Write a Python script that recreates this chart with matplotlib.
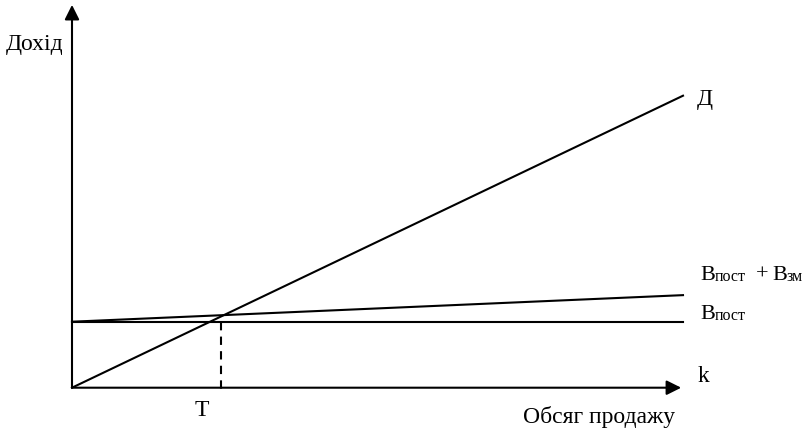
import numpy as np
import matplotlib.pyplot as plt

plt.rcParams['font.family'] = ['Liberation Serif', 'DejaVu Serif']

# data (relative units: sales volume 0..1, income 0..1)
volume = [0.0, 1.0]
revenue = [0.0, 1.0]          # Д
fixed_cost = [0.226, 0.226]   # B_пост
total_cost = [0.226, 0.317]   # B_пост + B_зм
break_even = 0.244            # T

# pixel layout of the original drawing
X0, Y0 = 72, 387.7      # origin
SX, SY = 611, 292       # pixels per unit


def px(x, y):
    return (x - X0) / SX, (Y0 - y) / SY


fig = plt.figure(figsize=(8.09, 4.32), dpi=100)
ax = fig.add_axes([0, 0, 1, 1])
ax.set_xlim(px(0, 0)[0], px(809, 0)[0])
ax.set_ylim(px(0, 432)[1], px(0, 0)[1])
ax.axis('off')

lw = 1.5
ax.plot(volume, revenue, color='black', lw=lw)
ax.plot(volume, fixed_cost, color='black', lw=lw)
ax.plot(volume, total_cost, color='black', lw=lw)

# break-even dashed marker
ax.plot([break_even, break_even], [fixed_cost[0], -0.02],
        color='black', lw=lw, dashes=(4, 3))

# axes with arrows
arrow = dict(arrowstyle='-|>', color='black', lw=lw, shrinkA=0, shrinkB=0,
             mutation_scale=22)
ax.annotate('', xy=(0.997, 0), xytext=(0, 0), arrowprops=arrow)
ax.annotate('', xy=(0, 1.311), xytext=(0, 0), arrowprops=arrow)

fs = 17
ax.text(*px(35, 44), 'Дохід', fontsize=fs, ha='center', va='center')
ax.text(*px(697, 99), 'Д', fontsize=fs, ha='left', va='center')
ax.text(*px(698, 377), 'k', fontsize=fs, ha='left', va='center')
ax.text(*px(202, 410), 'T', fontsize=fs, ha='center', va='center')
ax.text(*px(675, 417), 'Обсяг продажу', fontsize=fs, ha='right', va='center')

# cost labels: letter + small subscript, built piece by piece
big, small = 16, 11.5
def cost_label(x, base, parts):
    for text, dx, sub in parts:
        ax.text(*px(x + dx, base + (1 if sub else 0)), text,
                fontsize=small if sub else big, ha='left', va='baseline')

cost_label(700, 280, [('В', 0, False), ('пост', 15, True), ('+', 56, False),
                      ('В', 72, False), ('зм', 87, True)])
cost_label(700, 319, [('В', 0, False), ('пост', 15, True)])

fig.savefig('out.png', dpi=100)
